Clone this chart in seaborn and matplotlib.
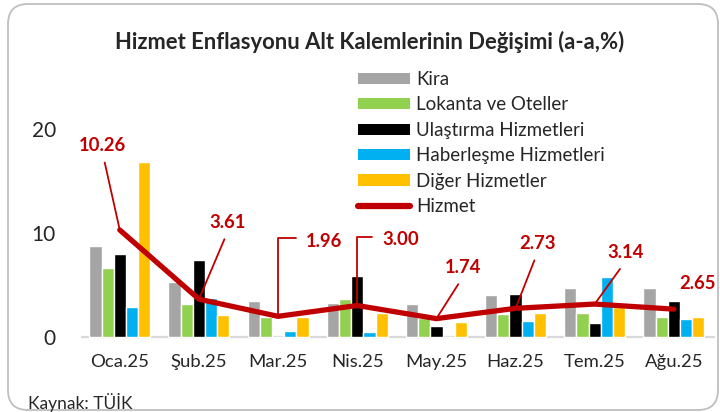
import numpy as np
import pandas as pd
import matplotlib
matplotlib.use("Agg")
import matplotlib.pyplot as plt
from matplotlib.patches import Patch, FancyBboxPatch
from matplotlib.lines import Line2D
import seaborn as sns

# ---- data ----
months = ["Oca.25", "Şub.25", "Mar.25", "Nis.25", "May.25", "Haz.25", "Tem.25", "Ağu.25"]
kira = [8.75, 5.29, 3.43, 3.24, 3.17, 4.04, 4.71, 4.65]
lokanta = [6.58, 3.17, 1.92, 3.63, 1.77, 2.15, 2.31, 1.92]
ulastirma = [7.95, 7.37, -0.15, 5.84, 1.03, 4.08, 1.32, 3.40]
haberlesme = [2.86, 3.69, 0.55, 0.45, -0.05, 1.51, 5.77, 1.67]
diger = [16.83, 2.06, 1.87, 2.31, 1.44, 2.31, 2.85, 1.92]
hizmet = [10.26, 3.61, 1.96, 3.00, 1.74, 2.73, 3.14, 2.65]
series_names = ["Kira", "Lokanta ve Oteller", "Ulaştırma Hizmetleri",
                "Haberleşme Hizmetleri", "Diğer Hizmetler"]
line_name = "Hizmet"
title = "Hizmet Enflasyonu Alt Kalemlerinin Değişimi (a-a,%)"
source = "Kaynak: TÜİK"
yticks = [0, 10, 20]

colors = ["#A5A5A5", "#92D050", "#000000", "#00B0F0", "#FFC000"]
line_color = "#C00000"

df = pd.DataFrame({
    "Ay": months * 5,
    "Kalem": sum([[n] * len(months) for n in series_names], []),
    "Değer": kira + lokanta + ulastirma + haberlesme + diger,
})

sns.set_theme(style="white")
plt.rcParams["font.family"] = ["Lato", "DejaVu Sans"]

fig = plt.figure(figsize=(7.2, 4.12), dpi=100)
ax = fig.add_axes([0.1125, 0.1575, 0.8806, 0.6563])

sns.barplot(data=df, x="Ay", y="Değer", hue="Kalem", order=months,
            hue_order=series_names, palette=colors, width=0.77,
            saturation=1, errorbar=None, legend=False, ax=ax, zorder=2)
ax.axhline(0, color="#D9D9D9", lw=1.6, zorder=1)
sns.lineplot(x=np.arange(len(months)), y=hizmet, color=line_color, lw=3.8,
             ax=ax, zorder=4, solid_capstyle="round", solid_joinstyle="round")

ax.set_xlim(-0.49, 7.52)
ax.set_ylim(-1, 25)
ax.set_yticks(yticks)
ax.set_yticklabels([str(t) for t in yticks], fontsize=15)
ax.set_xticks(np.arange(len(months)))
ax.set_xticklabels(months, fontsize=13.3)
ax.tick_params(axis="y", length=0, pad=18)
ax.tick_params(axis="x", length=0, pad=5)
ax.set_xlabel("")
ax.set_ylabel("")
for s in ax.spines.values():
    s.set_visible(False)

# data labels (layout positions, in data units)
label_pos = [(-0.215, 18.4), (1.367, 11.0), (2.58, 9.2), (3.544, 9.3),
             (4.34, 6.63), (5.28, 8.97), (6.39, 8.08), (7.30, 5.16)]
label_style = ["straight", "straight", "elbow", "elbow",
               "straight", "straight", "straight", "none"]
for i, (v, pos, st) in enumerate(zip(hizmet, label_pos, label_style)):
    kw = dict(fontsize=13.3, fontweight="bold", color=line_color,
              ha="center", va="center", annotation_clip=False, zorder=5)
    if st == "straight":
        kw["arrowprops"] = dict(arrowstyle="-", color=line_color, lw=1.3,
                                shrinkA=4, shrinkB=0, relpos=(0.5, 0))
    elif st == "elbow":
        kw["arrowprops"] = dict(arrowstyle="-", color=line_color, lw=1.3,
                                shrinkA=5, shrinkB=0, relpos=(0, 0.65),
                                connectionstyle="angle,angleA=0,angleB=90,rad=0")
    ax.annotate(f"{v:.2f}", xy=(i, v), xytext=pos, textcoords="data", **kw)

# legend
handles = [Patch(facecolor=c, edgecolor="none") for c in colors]
handles.append(Line2D([0], [0], color=line_color, lw=4.5, solid_capstyle="round"))
fig.legend(handles, series_names + [line_name], loc="upper left",
           bbox_to_anchor=(358 / 720, 1 - 71 / 412), frameon=False,
           fontsize=13.5, handlelength=2.77, handleheight=0.55,
           handletextpad=0.32, labelspacing=0.45, borderpad=0, borderaxespad=0)

fig.text(370 / 720, 1 - 42 / 412, title, fontsize=15.8, fontweight="bold",
         ha="center", va="center")
fig.text(28 / 720, 1 - 402 / 412, source, fontsize=12.5, ha="left", va="center")

border = FancyBboxPatch((0.08, 0.02), 7.10, 4.06,
                        boxstyle="round,pad=0,rounding_size=0.2",
                        transform=fig.dpi_scale_trans, facecolor="none",
                        edgecolor="#BFBFBF", lw=1.3, zorder=0)
fig.add_artist(border)

fig.savefig("out.png", dpi=100)
